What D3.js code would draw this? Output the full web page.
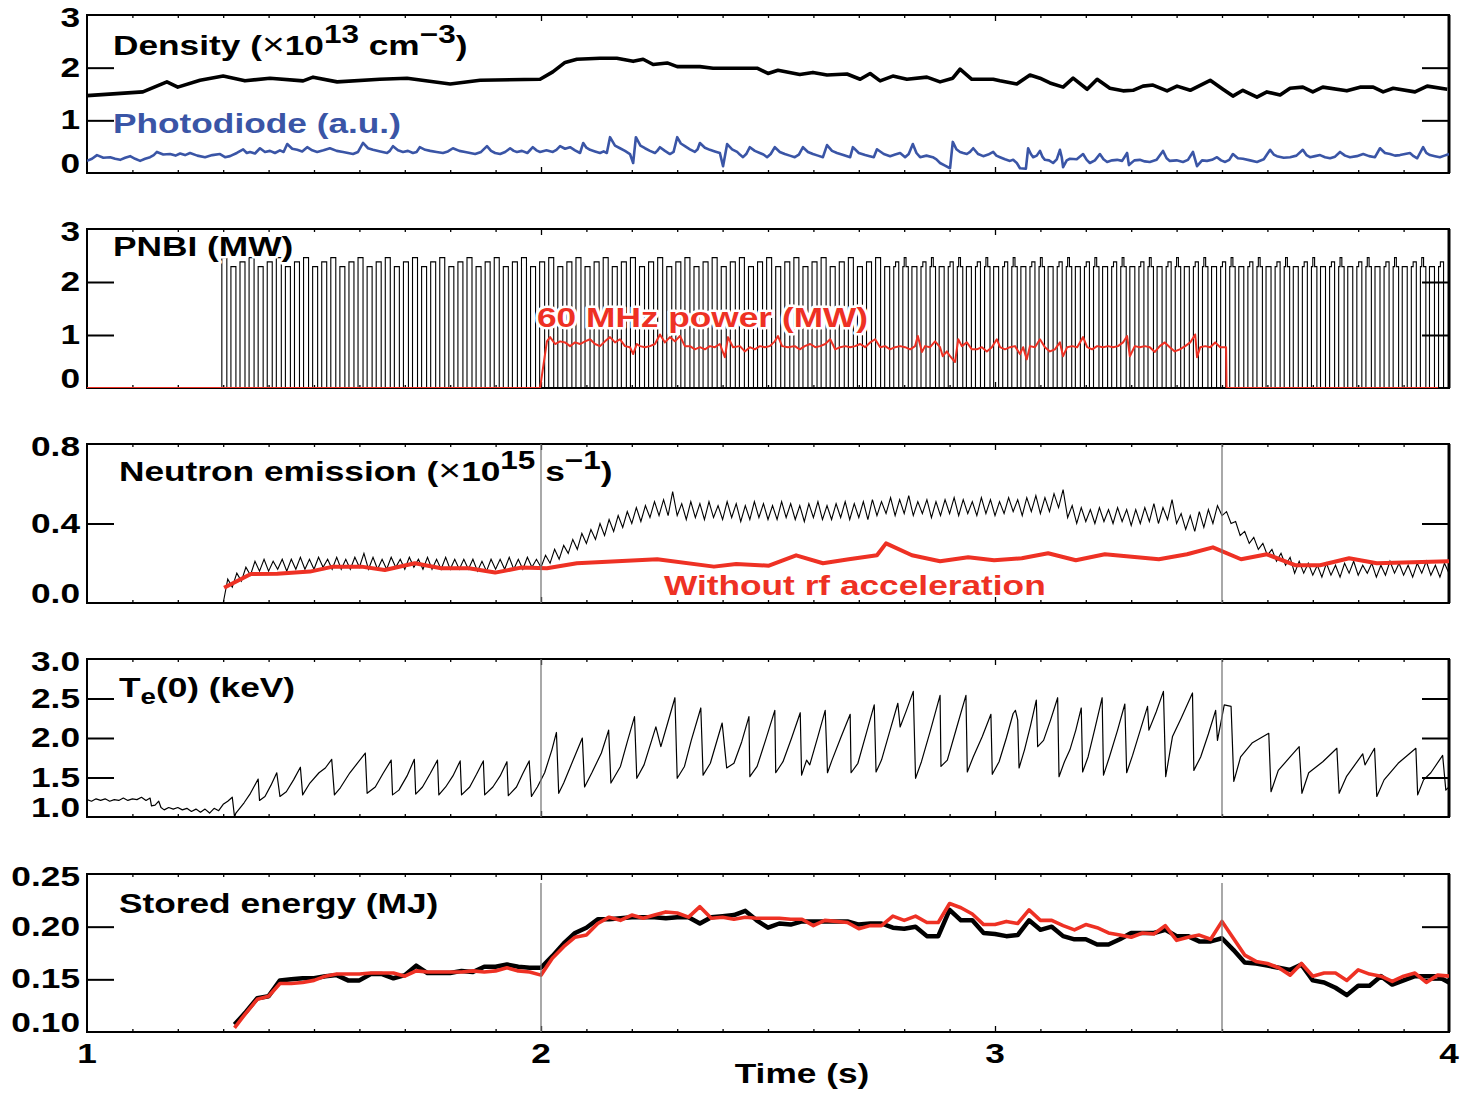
<!DOCTYPE html>
<html>
<head>
<meta charset="utf-8">
<script src="https://cdn.jsdelivr.net/npm/d3@7"></script>
<style>
  body { margin: 0; background: #fff; }
  svg { display: block; }
  text { font-family: "Liberation Sans", Arial, Helvetica, sans-serif; font-weight: bold; }
</style>
</head>
<body>
<svg id="chart" width="1472" height="1093"></svg>
<script>
// ---------------- data ----------------
// line-averaged density (x1e13 cm^-3): [time s, value]
const density = [[1.000,1.47],[1.123,1.54],[1.176,1.73],[1.200,1.63],[1.249,1.76],[1.300,1.84],[1.348,1.75],[1.403,1.80],[1.476,1.75],[1.498,1.82],[1.551,1.73],[1.645,1.78],[1.705,1.80],[1.800,1.69],[1.866,1.76],[1.998,1.78],[2.026,1.92],[2.053,2.10],[2.079,2.16],[2.130,2.18],[2.167,2.18],[2.203,2.12],[2.225,2.16],[2.247,2.06],[2.278,2.09],[2.300,2.02],[2.350,2.02],[2.379,1.99],[2.476,1.99],[2.500,1.89],[2.522,1.95],[2.570,1.87],[2.599,1.91],[2.630,1.86],[2.674,1.88],[2.703,1.78],[2.725,1.89],[2.747,1.75],[2.775,1.84],[2.806,1.78],[2.850,1.82],[2.879,1.73],[2.907,1.80],[2.923,1.97],[2.949,1.78],[2.996,1.78],[3.011,1.75],[3.048,1.69],[3.077,1.86],[3.099,1.80],[3.121,1.71],[3.150,1.63],[3.172,1.80],[3.203,1.59],[3.225,1.78],[3.253,1.61],[3.282,1.56],[3.304,1.57],[3.326,1.65],[3.348,1.67],[3.379,1.56],[3.401,1.65],[3.430,1.57],[3.474,1.76],[3.502,1.59],[3.524,1.46],[3.546,1.57],[3.577,1.44],[3.599,1.54],[3.628,1.48],[3.650,1.61],[3.678,1.63],[3.700,1.54],[3.722,1.63],[3.775,1.56],[3.804,1.63],[3.833,1.63],[3.855,1.54],[3.877,1.61],[3.925,1.54],[3.952,1.65],[3.996,1.59]];

// photodiode signal (a.u.): [time s, value]
const photodiode = [[1.000,0.23],[1.011,0.27],[1.022,0.34],[1.036,0.29],[1.051,0.30],[1.062,0.27],[1.073,0.25],[1.084,0.29],[1.095,0.32],[1.106,0.27],[1.117,0.23],[1.128,0.27],[1.139,0.30],[1.147,0.34],[1.154,0.40],[1.168,0.35],[1.183,0.36],[1.195,0.33],[1.205,0.37],[1.216,0.34],[1.227,0.38],[1.243,0.33],[1.260,0.30],[1.276,0.34],[1.293,0.36],[1.304,0.30],[1.315,0.32],[1.330,0.38],[1.344,0.45],[1.352,0.38],[1.359,0.40],[1.370,0.37],[1.381,0.47],[1.392,0.40],[1.403,0.42],[1.414,0.38],[1.425,0.43],[1.433,0.40],[1.441,0.55],[1.452,0.46],[1.463,0.44],[1.474,0.41],[1.485,0.49],[1.496,0.43],[1.507,0.40],[1.521,0.43],[1.535,0.47],[1.550,0.42],[1.564,0.40],[1.575,0.38],[1.586,0.36],[1.597,0.40],[1.608,0.57],[1.619,0.47],[1.630,0.44],[1.646,0.41],[1.661,0.38],[1.667,0.42],[1.674,0.51],[1.685,0.43],[1.696,0.40],[1.707,0.42],[1.718,0.38],[1.726,0.40],[1.733,0.49],[1.745,0.44],[1.756,0.42],[1.770,0.40],[1.784,0.38],[1.795,0.41],[1.806,0.47],[1.820,0.42],[1.833,0.40],[1.844,0.38],[1.855,0.36],[1.868,0.40],[1.881,0.51],[1.890,0.42],[1.899,0.38],[1.910,0.36],[1.921,0.40],[1.932,0.47],[1.940,0.42],[1.947,0.40],[1.958,0.42],[1.970,0.38],[1.982,0.49],[1.990,0.43],[1.998,0.40],[2.012,0.43],[2.026,0.40],[2.034,0.44],[2.042,0.51],[2.053,0.46],[2.064,0.49],[2.075,0.43],[2.086,0.38],[2.093,0.57],[2.100,0.48],[2.108,0.44],[2.119,0.41],[2.130,0.38],[2.138,0.41],[2.145,0.38],[2.152,0.68],[2.163,0.52],[2.174,0.47],[2.185,0.42],[2.196,0.36],[2.203,0.19],[2.209,0.68],[2.219,0.52],[2.229,0.47],[2.240,0.42],[2.251,0.38],[2.256,0.42],[2.262,0.49],[2.273,0.42],[2.284,0.36],[2.292,0.40],[2.300,0.68],[2.308,0.56],[2.317,0.51],[2.328,0.45],[2.339,0.40],[2.345,0.45],[2.350,0.57],[2.361,0.48],[2.372,0.44],[2.383,0.41],[2.394,0.38],[2.401,0.13],[2.410,0.55],[2.421,0.45],[2.432,0.40],[2.438,0.35],[2.445,0.30],[2.452,0.36],[2.460,0.49],[2.471,0.42],[2.482,0.38],[2.490,0.35],[2.498,0.30],[2.506,0.36],[2.515,0.49],[2.526,0.40],[2.537,0.36],[2.548,0.33],[2.559,0.30],[2.568,0.35],[2.577,0.49],[2.588,0.40],[2.599,0.36],[2.610,0.33],[2.621,0.30],[2.630,0.53],[2.641,0.42],[2.652,0.38],[2.666,0.34],[2.681,0.30],[2.687,0.49],[2.700,0.38],[2.714,0.34],[2.724,0.32],[2.733,0.30],[2.740,0.45],[2.755,0.36],[2.769,0.32],[2.780,0.35],[2.791,0.38],[2.802,0.30],[2.810,0.36],[2.819,0.55],[2.827,0.38],[2.835,0.30],[2.849,0.33],[2.863,0.30],[2.871,0.26],[2.879,0.19],[2.890,0.14],[2.901,0.09],[2.907,0.59],[2.915,0.45],[2.923,0.40],[2.930,0.38],[2.938,0.36],[2.945,0.40],[2.952,0.47],[2.963,0.36],[2.974,0.32],[2.985,0.35],[2.996,0.40],[3.003,0.33],[3.011,0.30],[3.022,0.26],[3.033,0.23],[3.040,0.25],[3.048,0.19],[3.055,0.09],[3.068,0.08],[3.073,0.47],[3.079,0.36],[3.084,0.30],[3.092,0.33],[3.099,0.42],[3.105,0.30],[3.110,0.25],[3.119,0.24],[3.128,0.19],[3.136,0.26],[3.143,0.44],[3.147,0.30],[3.150,0.11],[3.158,0.24],[3.165,0.27],[3.180,0.26],[3.194,0.36],[3.202,0.25],[3.209,0.19],[3.220,0.24],[3.231,0.36],[3.239,0.26],[3.247,0.21],[3.258,0.24],[3.269,0.25],[3.280,0.23],[3.291,0.38],[3.295,0.15],[3.307,0.24],[3.319,0.25],[3.330,0.22],[3.341,0.21],[3.356,0.25],[3.370,0.42],[3.378,0.28],[3.385,0.23],[3.400,0.24],[3.414,0.21],[3.425,0.25],[3.436,0.40],[3.445,0.13],[3.456,0.24],[3.467,0.23],[3.478,0.25],[3.489,0.30],[3.498,0.24],[3.507,0.21],[3.516,0.25],[3.524,0.36],[3.535,0.28],[3.546,0.27],[3.562,0.24],[3.577,0.21],[3.592,0.26],[3.606,0.44],[3.614,0.35],[3.621,0.32],[3.636,0.29],[3.650,0.30],[3.664,0.33],[3.678,0.44],[3.686,0.34],[3.694,0.30],[3.705,0.32],[3.716,0.34],[3.727,0.30],[3.738,0.28],[3.749,0.31],[3.760,0.40],[3.771,0.33],[3.782,0.30],[3.797,0.32],[3.811,0.36],[3.824,0.32],[3.837,0.30],[3.848,0.47],[3.859,0.38],[3.870,0.36],[3.881,0.33],[3.892,0.34],[3.903,0.36],[3.914,0.38],[3.922,0.32],[3.930,0.28],[3.943,0.49],[3.950,0.38],[3.958,0.34],[3.969,0.32],[3.980,0.30],[3.990,0.33],[4.000,0.36]];

// neutral beam modulation: pulse switch-on times (s) and pulse length (s)
const nbiOnTimes = [1.297,1.317,1.337,1.357,1.377,1.397,1.417,1.437,1.457,1.477,
  1.497,1.517,1.537,1.557,1.577,1.597,1.617,1.637,1.657,1.677,
  1.697,1.717,1.737,1.757,1.777,1.797,1.817,1.837,1.857,1.877,
  1.897,1.917,1.937,1.957,1.977,1.997,2.017,2.037,2.057,2.077,
  2.097,2.117,2.137,2.157,2.177,2.197,2.217,2.237,2.257,2.277,
  2.297,2.317,2.337,2.357,2.377,2.397,2.417,2.437,2.457,2.477,
  2.497,2.517,2.537,2.557,2.577,2.597,2.617,2.637,2.657,2.677,
  2.697,2.717,2.737,2.757,2.777,2.797,2.817,2.837,2.857,2.877,
  2.897,2.917,2.937,2.957,2.977,2.997,3.017,3.037,3.057,3.077,
  3.097,3.117,3.137,3.157,3.177,3.197,3.217,3.237,3.257,3.277,
  3.297,3.317,3.337,3.357,3.377,3.397,3.417,3.437,3.457,3.477,
  3.497,3.517,3.537,3.557,3.577,3.597,3.617,3.637,3.657,3.677,
  3.697,3.717,3.737,3.757,3.777,3.797,3.817,3.837,3.857,3.877,
  3.897,3.917,3.937,3.957,3.977];
const nbiPulseLength = 0.011;
// power level of each of the three alternating beams (MW)
const nbiBeamLevels = [2.46, 2.29, 2.38];
// after this time the tops are stepped: [duration s, level MW] per beam
const nbiSteppedFrom = 2.75;
const nbiSteppedTops = [
  [[0.003, 2.29], [0.004, 2.46], [0.005, 2.29]],
  [[0.011, 2.29]],
  [[0.004, 2.29], [0.007, 2.38]]
];

// 60 MHz rf power (MW): [time s, value]
const rfPower = [[1.000,0],[1.998,0],[2.013,0.88],[2.020,0.96],[2.031,0.83],[2.042,0.88],[2.053,0.86],[2.064,0.79],[2.075,0.86],[2.086,0.83],[2.097,0.88],[2.108,0.92],[2.119,0.83],[2.130,0.79],[2.141,0.88],[2.152,0.96],[2.163,0.86],[2.174,0.92],[2.185,0.79],[2.196,0.77],[2.203,0.64],[2.211,0.83],[2.218,0.79],[2.229,0.77],[2.240,0.79],[2.251,0.83],[2.262,1.01],[2.273,0.86],[2.284,0.96],[2.295,0.88],[2.306,0.98],[2.317,0.79],[2.328,0.79],[2.339,0.73],[2.350,0.77],[2.361,0.73],[2.372,0.79],[2.383,0.77],[2.394,0.83],[2.405,0.58],[2.412,0.96],[2.423,0.77],[2.438,0.79],[2.449,0.69],[2.460,0.77],[2.471,0.73],[2.482,0.79],[2.493,0.77],[2.504,0.79],[2.515,0.88],[2.522,0.98],[2.531,0.79],[2.544,0.77],[2.559,0.79],[2.570,0.73],[2.581,0.79],[2.593,0.83],[2.604,0.77],[2.615,0.79],[2.626,0.83],[2.637,0.92],[2.648,0.73],[2.659,0.77],[2.670,0.79],[2.681,0.77],[2.692,0.79],[2.703,0.83],[2.714,0.77],[2.725,0.86],[2.736,0.92],[2.747,0.77],[2.758,0.79],[2.769,0.73],[2.780,0.77],[2.791,0.79],[2.802,0.77],[2.813,0.73],[2.824,0.79],[2.830,0.98],[2.839,0.68],[2.846,0.79],[2.857,0.77],[2.868,0.88],[2.879,0.77],[2.885,0.60],[2.894,0.69],[2.901,0.60],[2.912,0.49],[2.919,0.92],[2.927,0.79],[2.938,0.86],[2.949,0.73],[2.960,0.73],[2.971,0.77],[2.982,0.69],[2.993,0.77],[3.004,0.92],[3.011,0.77],[3.022,0.73],[3.033,0.77],[3.044,0.79],[3.055,0.64],[3.062,0.77],[3.070,0.54],[3.077,0.79],[3.088,0.77],[3.099,0.92],[3.110,0.77],[3.121,0.69],[3.132,0.73],[3.143,0.86],[3.150,0.60],[3.159,0.77],[3.170,0.79],[3.181,0.77],[3.194,0.96],[3.203,0.77],[3.214,0.73],[3.225,0.79],[3.238,0.77],[3.249,0.79],[3.260,0.77],[3.271,0.79],[3.282,0.86],[3.291,0.98],[3.297,0.60],[3.308,0.79],[3.319,0.77],[3.330,0.79],[3.341,0.77],[3.352,0.68],[3.363,0.79],[3.374,0.86],[3.385,0.77],[3.396,0.69],[3.407,0.73],[3.419,0.79],[3.430,0.86],[3.441,1.01],[3.445,0.58],[3.452,0.77],[3.463,0.79],[3.474,0.77],[3.485,0.86],[3.496,0.77],[3.509,0.77],[3.510,0],[3.976,0]];

// neutron emission rate (x1e15 s^-1), sampled every 10 ms from 1.30 s
const neutronStart = 1.30, neutronStep = 0.01;
const neutronRate = [
  0.00,0.12,0.08,0.15,0.11,0.18,0.14,0.21,0.16,0.22,
  0.16,0.21,0.17,0.22,0.16,0.22,0.17,0.23,0.17,0.22,
  0.17,0.23,0.18,0.22,0.17,0.23,0.17,0.22,0.17,0.23,
  0.18,0.25,0.17,0.23,0.17,0.22,0.17,0.23,0.18,0.22,
  0.17,0.23,0.18,0.22,0.17,0.23,0.17,0.22,0.17,0.23,
  0.17,0.22,0.17,0.22,0.17,0.22,0.16,0.21,0.16,0.22,
  0.17,0.22,0.17,0.23,0.17,0.22,0.17,0.23,0.18,0.22,
  0.18,0.24,0.20,0.27,0.22,0.29,0.25,0.32,0.27,0.35,
  0.30,0.37,0.32,0.40,0.34,0.42,0.36,0.44,0.38,0.46,
  0.40,0.48,0.41,0.49,0.43,0.51,0.44,0.52,0.44,0.56,
  0.44,0.50,0.42,0.51,0.43,0.50,0.42,0.51,0.43,0.49,
  0.42,0.51,0.43,0.50,0.41,0.49,0.42,0.51,0.43,0.50,
  0.42,0.49,0.42,0.51,0.43,0.50,0.42,0.49,0.41,0.50,
  0.43,0.51,0.42,0.49,0.42,0.50,0.43,0.51,0.42,0.50,
  0.43,0.51,0.42,0.52,0.44,0.51,0.45,0.53,0.44,0.52,
  0.45,0.54,0.44,0.51,0.45,0.52,0.43,0.51,0.44,0.52,
  0.45,0.53,0.44,0.52,0.45,0.51,0.44,0.53,0.45,0.52,
  0.44,0.51,0.45,0.53,0.46,0.52,0.44,0.53,0.46,0.54,
  0.45,0.53,0.46,0.55,0.48,0.57,0.43,0.49,0.40,0.48,
  0.41,0.47,0.40,0.48,0.41,0.47,0.40,0.48,0.41,0.47,
  0.39,0.47,0.40,0.48,0.41,0.50,0.40,0.48,0.42,0.52,
  0.40,0.45,0.37,0.44,0.36,0.46,0.38,0.47,0.40,0.49,
  0.44,0.46,0.40,0.41,0.34,0.36,0.30,0.33,0.27,0.30,
  0.24,0.27,0.21,0.25,0.19,0.23,0.15,0.21,0.15,0.20,
  0.14,0.19,0.13,0.20,0.14,0.19,0.13,0.20,0.15,0.21,
  0.14,0.19,0.15,0.20,0.13,0.19,0.14,0.21,0.15,0.20,
  0.14,0.19,0.13,0.20,0.15,0.21,0.14,0.19,0.13,0.20,
  0.15];

// neutron emission without rf acceleration: [time s, value]
const neutronNoRf = [[1.302,0.077],[1.361,0.146],[1.419,0.147],[1.491,0.158],[1.542,0.183],[1.604,0.183],[1.656,0.166],[1.722,0.200],[1.780,0.175],[1.841,0.175],[1.899,0.153],[1.956,0.178],[2.013,0.175],[2.079,0.200],[2.256,0.220],[2.381,0.183],[2.430,0.196],[2.502,0.188],[2.562,0.240],[2.621,0.200],[2.678,0.220],[2.740,0.240],[2.760,0.300],[2.817,0.240],[2.879,0.210],[2.941,0.230],[2.998,0.215],[3.059,0.225],[3.117,0.250],[3.178,0.215],[3.242,0.245],[3.361,0.220],[3.423,0.245],[3.480,0.280],[3.542,0.220],[3.599,0.245],[3.661,0.190],[3.716,0.190],[3.780,0.225],[3.841,0.200],[4.000,0.210]];

// central electron temperature (keV): [time s, value]
const electronTemp = [[1.000,1.22],[1.010,1.20],[1.020,1.23],[1.030,1.21],[1.040,1.23],[1.050,1.20],[1.060,1.22],[1.070,1.21],[1.080,1.24],[1.090,1.21],[1.100,1.23],[1.110,1.22],[1.120,1.25],[1.130,1.21],[1.139,1.24],[1.142,1.14],[1.150,1.15],[1.158,1.20],[1.163,1.12],[1.170,1.09],[1.180,1.12],[1.190,1.10],[1.200,1.12],[1.210,1.09],[1.220,1.11],[1.230,1.07],[1.240,1.10],[1.250,1.06],[1.260,1.10],[1.270,1.05],[1.280,1.11],[1.290,1.08],[1.300,1.16],[1.310,1.20],[1.320,1.25],[1.325,1.00],
  [1.328,1.05],[1.346,1.18],[1.360,1.30],[1.377,1.48],[1.380,1.21],
  [1.392,1.26],[1.405,1.40],[1.418,1.56],[1.425,1.26],
  [1.439,1.32],[1.455,1.47],[1.470,1.63],[1.475,1.28],
  [1.491,1.43],[1.511,1.56],[1.525,1.62],[1.539,1.73],[1.545,1.28],
  [1.558,1.37],[1.579,1.56],[1.594,1.67],[1.613,1.81],[1.617,1.30],
  [1.635,1.38],[1.652,1.55],[1.670,1.72],[1.673,1.28],
  [1.687,1.34],[1.705,1.52],[1.721,1.73],[1.724,1.29],
  [1.739,1.38],[1.756,1.55],[1.772,1.72],[1.775,1.28],
  [1.790,1.38],[1.806,1.52],[1.822,1.71],[1.825,1.28],
  [1.843,1.38],[1.858,1.54],[1.873,1.71],[1.876,1.28],
  [1.894,1.38],[1.910,1.52],[1.925,1.70],[1.928,1.27],
  [1.946,1.38],[1.960,1.55],[1.974,1.71],[1.979,1.26],
  [1.992,1.38],[2.008,1.56],[2.024,1.85],[2.034,2.07],[2.039,1.30],
  [2.050,1.43],[2.065,1.64],[2.091,2.00],[2.096,1.38],
  [2.112,1.56],[2.133,1.81],[2.149,2.10],[2.154,1.43],
  [2.175,1.64],[2.190,1.95],[2.206,2.27],[2.211,1.49],
  [2.227,1.66],[2.253,2.14],[2.264,1.89],[2.279,2.19],[2.295,2.51],[2.300,1.49],
  [2.316,1.64],[2.331,1.97],[2.352,2.38],[2.357,1.53],
  [2.373,1.68],[2.399,2.19],[2.409,1.62],
  [2.425,1.68],[2.442,1.95],[2.458,2.27],[2.460,1.51],
  [2.476,1.64],[2.495,1.98],[2.515,2.35],[2.517,1.56],
  [2.533,1.70],[2.552,2.00],[2.571,2.32],[2.574,1.53],
  [2.585,1.72],[2.592,1.66],[2.610,2.02],[2.626,2.35],[2.631,1.56],
  [2.641,1.72],[2.660,2.00],[2.681,2.30],[2.683,1.56],
  [2.698,1.68],[2.716,2.05],[2.734,2.42],[2.738,1.57],
  [2.750,1.72],[2.768,2.08],[2.786,2.44],[2.791,2.14],[2.805,2.35],[2.820,2.59],[2.825,1.49],
  [2.838,1.70],[2.858,2.10],[2.879,2.54],[2.881,1.64],
  [2.895,1.72],[2.915,2.12],[2.936,2.54],[2.939,1.57],
  [2.952,1.76],[2.972,2.02],[2.991,2.30],[2.994,1.54],
  [3.009,1.70],[3.025,2.00],[3.040,2.31],[3.045,2.35],[3.050,2.23],[3.053,1.62],
  [3.065,1.85],[3.078,2.15],[3.091,2.48],[3.094,1.89],
  [3.107,1.97],[3.122,2.22],[3.138,2.51],[3.141,1.51],
  [3.153,1.70],[3.165,1.85],[3.178,2.10],[3.190,2.38],[3.193,1.57],
  [3.205,1.76],[3.220,2.12],[3.236,2.51],[3.239,1.53],
  [3.252,1.76],[3.270,2.10],[3.286,2.43],[3.290,1.56],
  [3.303,1.78],[3.320,2.10],[3.336,2.40],[3.339,2.10],[3.355,2.33],[3.371,2.59],[3.376,1.51],
  [3.391,2.02],[3.410,2.25],[3.435,2.57],[3.438,1.59],
  [3.453,1.76],[3.470,2.05],[3.486,2.35],[3.490,1.97],
  [3.505,2.42],[3.520,2.40],[3.526,1.45],
  [3.541,1.76],[3.567,1.94],[3.585,2.00],[3.603,2.06],[3.608,1.32],
  [3.624,1.59],[3.650,1.76],[3.670,1.89],[3.676,1.30],
  [3.691,1.56],[3.722,1.70],[3.753,1.87],[3.758,1.30],
  [3.774,1.51],[3.810,1.80],[3.815,1.66],[3.836,1.87],[3.841,1.26],
  [3.857,1.47],[3.888,1.68],[3.927,1.87],[3.931,1.28],
  [3.944,1.47],[3.960,1.56],[3.986,1.78],[3.993,1.34],[4.000,1.38]];

// stored energy (MJ), sampled every 25 ms from 1.325 s
const energyStart = 1.325, energyStep = 0.025;
const storedEnergyBlack = [0.107,0.119,0.132,0.134,0.149,0.150,0.151,0.151,0.153,0.154,
  0.149,0.149,0.155,0.155,0.151,0.154,0.163,0.156,0.156,0.156,
  0.158,0.157,0.162,0.162,0.164,0.162,0.161,0.161,0.172,0.184,
  0.194,0.199,0.207,0.207,0.208,0.209,0.209,0.209,0.208,0.209,
  0.209,0.203,0.209,0.210,0.211,0.215,0.206,0.199,0.203,0.202,
  0.205,0.205,0.205,0.205,0.205,0.202,0.203,0.203,0.199,0.198,
  0.200,0.191,0.191,0.216,0.206,0.206,0.194,0.193,0.191,0.192,
  0.206,0.197,0.200,0.191,0.188,0.188,0.183,0.183,0.188,0.194,
  0.194,0.194,0.197,0.191,0.191,0.186,0.186,0.189,0.178,0.166,
  0.165,0.163,0.161,0.159,0.164,0.149,0.147,0.142,0.135,0.144,
  0.144,0.153,0.145,0.149,0.153,0.153,0.153,0.147];
const storedEnergyRed = [0.104,0.118,0.131,0.134,0.146,0.146,0.147,0.149,0.153,0.155,
  0.155,0.155,0.156,0.156,0.156,0.153,0.158,0.157,0.157,0.157,
  0.157,0.158,0.157,0.158,0.161,0.158,0.157,0.154,0.170,0.181,
  0.190,0.192,0.203,0.209,0.206,0.211,0.208,0.211,0.214,0.213,
  0.209,0.219,0.208,0.209,0.207,0.209,0.208,0.208,0.208,0.207,
  0.207,0.201,0.206,0.205,0.204,0.198,0.201,0.201,0.210,0.206,
  0.210,0.204,0.204,0.222,0.218,0.212,0.202,0.202,0.205,0.203,
  0.216,0.206,0.206,0.201,0.197,0.202,0.199,0.194,0.192,0.190,
  0.194,0.193,0.201,0.187,0.190,0.192,0.188,0.205,0.189,0.173,
  0.167,0.165,0.161,0.154,0.165,0.153,0.156,0.156,0.149,0.159,
  0.155,0.153,0.148,0.153,0.156,0.147,0.154,0.153];

// axis tick values
const timeTicks = [1, 2, 3, 4];
const markerTimes = [2.0, 3.5];

// ---------------- drawing ----------------
const RED = "#ee3124", BLUE = "#3a55a6";
const SX = 1.26;          // horizontal stretch of the bold lettering
const svg = d3.select("#chart");
const x = d3.scaleLinear().domain([1, 4]).range([87, 1449]);

const panels = [
  { key: "dens", top: 15,  bottom: 173,  domain: [0, 3],       inner: [1, 2],        labels: [0, 1, 2, 3],             fmt: d3.format("d") },
  { key: "nbi",  top: 229, bottom: 388,  domain: [0, 3],       inner: [1, 2],        labels: [0, 1, 2, 3],             fmt: d3.format("d") },
  { key: "neut", top: 444, bottom: 603,  domain: [0, 0.8],     inner: [0.4],         labels: [0, 0.4, 0.8],            fmt: d3.format(".1f") },
  { key: "te",   top: 659, bottom: 817,  domain: [1, 3],       inner: [1.5, 2, 2.5], labels: [1, 1.5, 2, 2.5, 3],      fmt: d3.format(".1f") },
  { key: "we",   top: 874, bottom: 1032, domain: [0.10, 0.25], inner: [0.15, 0.20],  labels: [0.10, 0.15, 0.20, 0.25], fmt: d3.format(".2f") }
];
panels.forEach(p => { p.y = d3.scaleLinear().domain(p.domain).range([p.bottom, p.top]); });
const P = Object.fromEntries(panels.map(p => [p.key, p]));

// stretched bold text with optional super/subscripts; py is the baseline
function label(parent, px, py, parts, opts = {}) {
  const size = opts.size || 28;
  const g = parent.append("g").attr("transform", `translate(${px},${py}) scale(${SX},1)`);
  const t = g.append("text").attr("font-size", size).attr("fill", opts.color || "#000")
    .attr("text-anchor", opts.anchor || "start");
  if (opts.halo) t.attr("stroke", "#fff").attr("stroke-width", opts.halo)
    .attr("stroke-linejoin", "round").attr("paint-order", "stroke");
  let shift = 0;
  parts.forEach(pt => {
    const o = typeof pt === "string" ? { t: pt } : pt;
    const target = o.sup ? -12 : o.sub ? 7 : 0;
    const s = t.append("tspan").attr("dy", target - shift).text(o.t);
    if (o.sup) s.attr("font-size", 25);
    if (o.sub) s.attr("font-size", 22);
    if (o.cross) s.attr("font-size", 31).attr("font-weight", "normal");
    shift = target;
  });
  return g;
}

// --- frames, ticks and tick labels (drawn first so the traces sit on top)
const minor = d3.range(11, 40).map(d => d / 10).filter(d => !timeTicks.includes(d));
const defs = svg.append("defs");
panels.forEach(p => {
  const g = p.g = svg.append("g").attr("class", "panel-" + p.key);
  const strip = sel => { sel.select(".domain").remove(); sel.selectAll("line").attr("stroke", "#000").attr("stroke-width", 1.3); };
  g.append("g").attr("transform", `translate(0,${p.bottom})`)
    .call(d3.axisBottom(x).tickValues(minor).tickSize(-3).tickFormat("")).call(strip);
  g.append("g").attr("transform", `translate(0,${p.top})`)
    .call(d3.axisTop(x).tickValues(minor).tickSize(-3).tickFormat("")).call(strip);
  g.append("g").attr("transform", `translate(0,${p.bottom})`)
    .call(d3.axisBottom(x).tickValues([2, 3]).tickSize(-6).tickFormat("")).call(strip);
  g.append("g").attr("transform", `translate(0,${p.top})`)
    .call(d3.axisTop(x).tickValues([2, 3]).tickSize(-6).tickFormat("")).call(strip);
  const stripY = sel => { sel.select(".domain").remove(); sel.selectAll("line").attr("stroke", "#000").attr("stroke-width", 2); };
  g.append("g").attr("transform", `translate(${x(1)},0)`)
    .call(d3.axisLeft(p.y).tickValues(p.inner).tickSize(-27).tickFormat("")).call(stripY);
  g.append("g").attr("transform", `translate(${x(4)},0)`)
    .call(d3.axisRight(p.y).tickValues(p.inner).tickSize(-27).tickFormat("")).call(stripY);
  g.append("rect").attr("x", x(1)).attr("y", p.top).attr("width", x(4) - x(1)).attr("height", p.bottom - p.top)
    .attr("fill", "none").attr("stroke", "#000").attr("stroke-width", 2);
  g.append("line").attr("x1", x(4)).attr("x2", x(4)).attr("y1", p.top).attr("y2", p.bottom)
    .attr("stroke", "#000").attr("stroke-width", 3);

  // tick labels, vertically centred on the tick (end labels pulled inside the frame)
  p.labels.forEach(v => {
    let yc = p.y(v) - 1;
    if (v === p.domain[0]) yc = p.y(v) - 10;
    if (v === p.domain[1]) yc = p.y(v) + 2;
    label(g, 80, yc + 10, [p.fmt(v)], { anchor: "end" });
  });

  defs.append("clipPath").attr("id", "clip-" + p.key)
    .append("rect").attr("x", x(1)).attr("y", p.top - 1).attr("width", x(4) - x(1)).attr("height", p.bottom - p.top + 1);
  p.data = g.append("g").attr("clip-path", `url(#clip-${p.key})`);
});

const lineOf = p => d3.line().x(d => x(d[0])).y(d => p.y(d[1]));
const gridSeries = (start, step, vals) => vals.map((v, i) => [start + i * step, v]);

// --- density & photodiode
P.dens.data.append("path").datum(photodiode).attr("d", lineOf(P.dens))
  .attr("fill", "none").attr("stroke", BLUE).attr("stroke-width", 2.6).attr("stroke-linejoin", "round");
P.dens.data.append("path").datum(density).attr("d", lineOf(P.dens))
  .attr("fill", "none").attr("stroke", "#000").attr("stroke-width", 3.6).attr("stroke-linejoin", "round");

// --- beam pulses and rf power
const nbiPts = [[1, 0]];
nbiOnTimes.forEach((t0, i) => {
  const beam = i % nbiBeamLevels.length;
  nbiPts.push([t0, 0]);
  if (t0 < nbiSteppedFrom) {
    const h = nbiBeamLevels[beam];
    nbiPts.push([t0, h], [t0 + nbiPulseLength, h], [t0 + nbiPulseLength, 0]);
  } else {
    let t = t0;
    nbiSteppedTops[beam].forEach(([dt, h]) => { nbiPts.push([t, h], [t + dt, h]); t += dt; });
    nbiPts.push([t, 0]);
  }
});
P.nbi.data.append("path").datum(nbiPts).attr("d", lineOf(P.nbi))
  .attr("fill", "none").attr("stroke", "#000").attr("stroke-width", 1.1);
P.nbi.data.append("path").datum(rfPower).attr("d", lineOf(P.nbi))
  .attr("fill", "none").attr("stroke", RED).attr("stroke-width", 2).attr("stroke-linejoin", "round");

// --- neutrons
P.neut.data.append("path").datum(gridSeries(neutronStart, neutronStep, neutronRate)).attr("d", lineOf(P.neut))
  .attr("fill", "none").attr("stroke", "#000").attr("stroke-width", 1.1);
P.neut.data.append("path").datum(neutronNoRf).attr("d", lineOf(P.neut))
  .attr("fill", "none").attr("stroke", RED).attr("stroke-width", 4).attr("stroke-linejoin", "round");

// --- electron temperature
P.te.data.append("path").datum(electronTemp).attr("d", lineOf(P.te))
  .attr("fill", "none").attr("stroke", "#000").attr("stroke-width", 1.2).attr("stroke-linejoin", "round");

// --- stored energy
P.we.data.append("path").datum(gridSeries(energyStart, energyStep, storedEnergyBlack)).attr("d", lineOf(P.we))
  .attr("fill", "none").attr("stroke", "#000").attr("stroke-width", 4.5).attr("stroke-linejoin", "round");
P.we.data.append("path").datum(gridSeries(energyStart, energyStep, storedEnergyRed)).attr("d", lineOf(P.we))
  .attr("fill", "none").attr("stroke", RED).attr("stroke-width", 3.6).attr("stroke-linejoin", "round");

// --- marker lines at rf on/off
["neut", "te", "we"].forEach(k => {
  const p = P[k];
  const y0 = k === "we" ? p.top + 9 : p.top;
  p.g.selectAll("line.marker").data(markerTimes).join("line").attr("class", "marker")
    .attr("x1", d => x(d)).attr("x2", d => x(d)).attr("y1", y0).attr("y2", p.bottom)
    .attr("stroke", "#7a7a7a").attr("stroke-width", 1.3);
});

// time axis labels
timeTicks.forEach(t => label(svg, x(t), 1063, [String(t)], { anchor: "middle" }));
label(svg, 802, 1083, ["Time (s)"], { anchor: "middle" });

// panel annotations
label(P.dens.g, 113, 55, ["Density (", { t: "×", cross: true }, "10", { t: "13", sup: true }, " cm", { t: "−3", sup: true }, ")"]);
label(P.dens.g, 113, 133, ["Photodiode (a.u.)"], { color: BLUE });
label(P.nbi.g, 113, 256, ["PNBI (MW)"], { halo: 5 });
label(P.nbi.g, 537, 327, ["60 MHz power (MW)"], { color: RED, halo: 5 });
label(P.neut.g, 119, 481, ["Neutron emission (", { t: "×", cross: true }, "10", { t: "15", sup: true }, " s", { t: "−1", sup: true }, ")"], { halo: 4 });
label(P.neut.g, 664, 595, ["Without rf acceleration"], { color: RED, halo: 4 });
label(P.te.g, 119, 697, ["T", { t: "e", sub: true }, "(0) (keV)"]);
label(P.we.g, 119, 913, ["Stored energy (MJ)"]);
</script>
</body>
</html>
